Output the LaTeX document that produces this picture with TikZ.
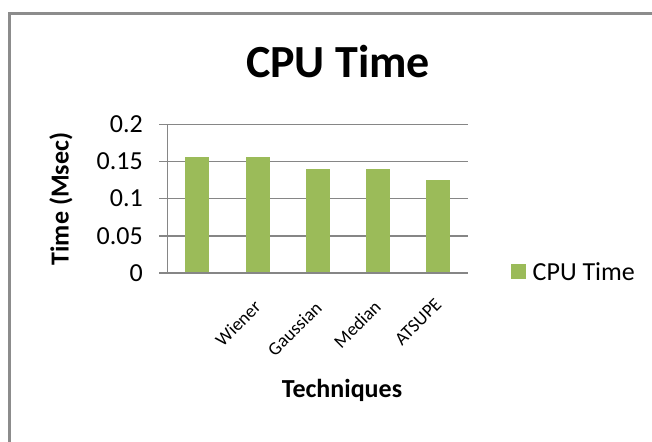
\documentclass[tikz,border=0pt]{standalone}
\usepackage{fontspec}
\setmainfont{Carlito}
\definecolor{barg}{HTML}{9BBB59}
\definecolor{gridg}{HTML}{868686}
\definecolor{frameg}{HTML}{8C8C8C}
\begin{document}
\begin{tikzpicture}[x=1pt,y=-1pt,
  gridline/.style={draw=gridg,line width=1.5pt},
  barbox/.style={fill=barg,draw=none},
  ticklab/.style={anchor=east,inner sep=0pt,font=\fontsize{26}{30}\selectfont},
  catlab/.style={anchor=north east,rotate=45,inner sep=0pt,font=\fontsize{18.5}{21}\selectfont},
  axtitle/.style={inner sep=0pt,font=\fontsize{26}{30}\selectfont\bfseries}]
\useasboundingbox (0,0) rectangle (652,441);
\begin{scope}
\clip (0,0) rectangle (652,441);
% chart frame
\draw[frameg,line width=2.5pt] (9.7,450) -- (9.7,13.3) -- (700,13.3);
\end{scope}
% title
\node[anchor=base,inner sep=0pt,font=\fontsize{46}{52}\selectfont\bfseries] (title) at (338,78) {CPU Time};
% gridlines and ticks
\foreach \v/\l [count=\i] in {0/0,0.05/0.05,0.1/0.1,0.15/0.15,0.2/0.2}{
  \draw[gridline] (159,273-\v*743.5) -- (468,273-\v*743.5);
  \node[ticklab] (tick\i) at (143,273-\v*743.5) {\l};
}
\draw[gridline] (167.3,124.3) -- (167.3,273);
% bars
\foreach \v [count=\i] in {0.156,0.156,0.140,0.140,0.125}{
  \pgfmathsetmacro{\cx}{167.3+60.14*(\i-0.5)}
  \fill[barg] (\cx-12,273-0.75) rectangle (\cx+12,273-\v*743.5);
}
\draw[gridline] (159,273) -- (468,273);
% category labels
\node[catlab] (c2) at (253,299) {Wiener};
\node[catlab] (c3) at (314,300) {Gaussian};
\node[catlab] (c4) at (373,299) {Median};
\node[catlab] (c5) at (434,297) {ATSUPE};
% axis titles
\node[axtitle,rotate=90] (ytitle) at (61,199) {Time (Msec)};
\node[axtitle] (xtitle) at (342,390) {Techniques};
% legend
\fill[barg] (511,264) rectangle (526,279);
\node[anchor=base west,inner sep=0pt,font=\fontsize{26}{30}\selectfont] (leg) at (532.5,280) {CPU Time};
\end{tikzpicture}
\end{document}
